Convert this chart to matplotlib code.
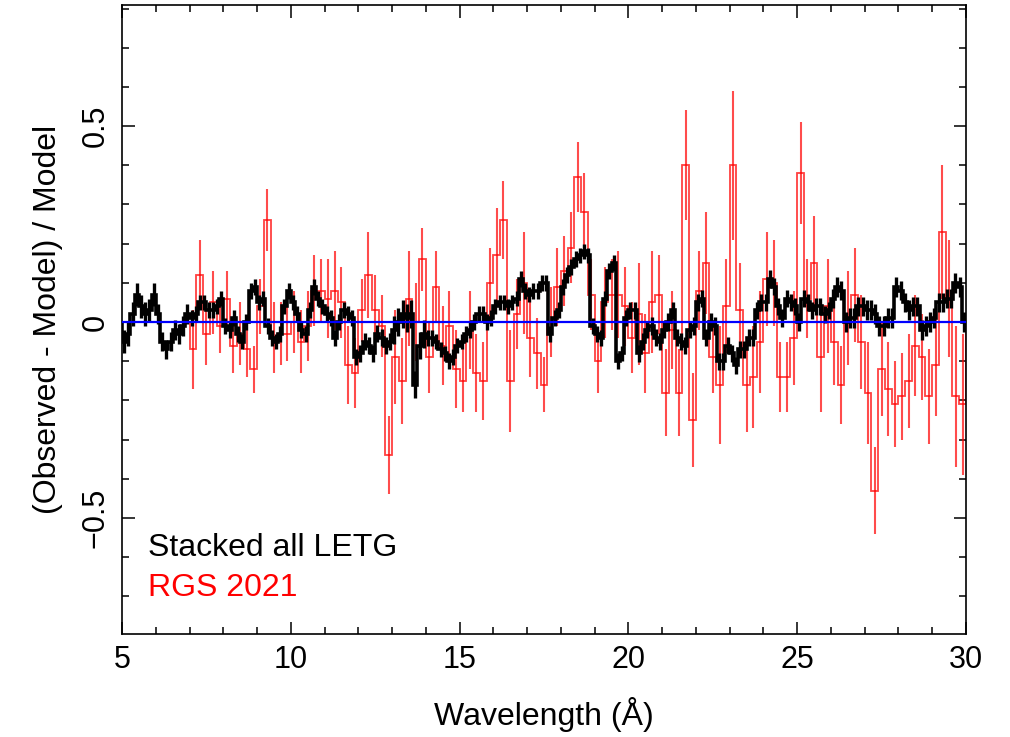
import numpy as np
import matplotlib
matplotlib.use("Agg")
import matplotlib.pyplot as plt

plt.rcParams["font.family"] = ["Liberation Sans", "DejaVu Sans"]

# stacked LETG residuals, 0.125 A bins from 5 to 30 A (one row per Angstrom)
letg_start, letg_step = 5.0, 0.125
letg_resid = [
    -0.05, -0.03, 0.02, 0.07, 0.04, 0.02, 0.03, 0.07,
    0.02, -0.05, -0.07, -0.05, -0.02, -0.03, -0.01, 0.02,
    0.01, 0.02, 0.05, 0.05, 0.03, 0.03, 0.04, 0.06,
    -0.01, -0.02, 0.01, -0.03, -0.05, 0.00, 0.08, 0.09,
    0.05, 0.06, -0.01, -0.04, -0.05, -0.03, 0.04, 0.08,
    0.05, 0.02, -0.02, -0.03, 0.03, 0.09, 0.06, 0.04,
    0.02, 0.01, -0.04, 0.00, 0.03, 0.02, 0.01, -0.09,
    -0.08, -0.05, -0.06, -0.08, -0.03, -0.04, -0.06, -0.05,
    -0.02, 0.00, 0.02, 0.01, 0.02, -0.16, -0.06, -0.03,
    -0.04, -0.04, -0.05, -0.07, -0.08, -0.10, -0.09, -0.06,
    -0.05, -0.03, -0.02, 0.00, 0.02, 0.02, 0.00, 0.01,
    0.04, 0.05, 0.05, 0.04, 0.05, 0.06, 0.11, 0.08,
    0.07, 0.08, 0.08, 0.10, 0.10, -0.03, 0.01, 0.03,
    0.09, 0.12, 0.14, 0.16, 0.17, 0.18, 0.17, -0.01,
    -0.03, -0.04, 0.06, 0.13, 0.15, -0.10, -0.08, 0.01,
    0.03, 0.03, -0.08, -0.05, -0.02, -0.01, -0.04, -0.05,
    -0.02, 0.00, 0.03, -0.04, -0.05, -0.06, -0.02, -0.01,
    0.05, 0.06, -0.04, 0.00, -0.01, -0.10, -0.10, -0.06,
    -0.08, -0.11, -0.07, -0.07, -0.04, -0.04, 0.03, 0.05,
    0.05, 0.11, 0.09, 0.04, 0.01, 0.06, 0.05, 0.04,
    0.00, 0.06, 0.05, 0.03, 0.04, 0.04, 0.02, 0.03,
    0.06, 0.09, 0.08, 0.00, 0.01, 0.01, 0.04, 0.04,
    0.03, 0.03, 0.02, -0.01, -0.01, 0.01, 0.01, 0.09,
    0.08, 0.05, 0.03, 0.04, 0.04, -0.02, -0.01, 0.00,
    0.01, 0.05, 0.05, 0.06, 0.06, 0.10, 0.09, 0.00,
]
# typical LETG error per Angstrom (5..29)
letg_err_per_A = [0.030, 0.025, 0.020, 0.020, 0.020, 0.020, 0.020, 0.022,
                  0.035, 0.020, 0.020, 0.020, 0.020, 0.020, 0.020, 0.022,
                  0.022, 0.022, 0.022, 0.022, 0.022, 0.025, 0.025, 0.025, 0.025]

# RGS 2021 residuals, 0.2 A bins from 7 to 30 A (one row per Angstrom)
rgs_start, rgs_step = 7.0, 0.2
rgs_resid = [
    -0.07, 0.12, -0.03, 0.05, -0.01,
    0.06, -0.06, -0.03, -0.07, -0.12,
    0.04, 0.26, -0.04, -0.03, -0.03,
    0.00, -0.05, -0.01, 0.08, 0.08,
    0.06, 0.08, 0.05, -0.11, -0.13,
    0.03, 0.12, 0.03, -0.01, -0.34,
    -0.09, -0.15, 0.06, 0.00, 0.16,
    -0.09, 0.09, -0.06, -0.01, -0.12,
    -0.15, -0.02, -0.13, -0.15, 0.10,
    0.17, 0.26, -0.15, 0.02, 0.10,
    -0.04, -0.08, -0.16, 0.00, 0.09,
    0.13, 0.19, 0.37, 0.28, 0.07,
    -0.10, 0.05, 0.07, 0.07, 0.04,
    -0.04, 0.02, -0.08, 0.05, 0.07,
    -0.18, -0.02, -0.18, 0.40, -0.25,
    0.08, 0.15, -0.09, -0.16, 0.04,
    0.40, 0.03, -0.16, -0.14, -0.05,
    0.11, 0.10, -0.14, -0.14, -0.04,
    0.38, 0.06, 0.15, -0.09, 0.04,
    -0.05, -0.16, 0.01, 0.07, -0.05,
    -0.18, -0.43, -0.12, -0.17, -0.21,
    -0.19, -0.15, -0.06, -0.09, -0.19,
    -0.11, 0.23, 0.06, -0.19, -0.21,
]
rgs_err = [
    0.10, 0.09, 0.08, 0.08, 0.07,
    0.07, 0.07, 0.08, 0.07, 0.06,
    0.07, 0.08, 0.09, 0.08, 0.07,
    0.08, 0.08, 0.09, 0.09, 0.08,
    0.10, 0.10, 0.09, 0.10, 0.09,
    0.08, 0.11, 0.09, 0.08, 0.10,
    0.12, 0.11, 0.12, 0.10, 0.08,
    0.09, 0.09, 0.10, 0.09, 0.10,
    0.08, 0.10, 0.10, 0.10, 0.09,
    0.12, 0.10, 0.13, 0.09, 0.13,
    0.10, 0.09, 0.07, 0.09, 0.10,
    0.09, 0.09, 0.09, 0.10, 0.09,
    0.08, 0.09, 0.09, 0.11, 0.10,
    0.09, 0.13, 0.10, 0.13, 0.10,
    0.11, 0.10, 0.11, 0.14, 0.12,
    0.10, 0.13, 0.09, 0.15, 0.12,
    0.19, 0.12, 0.12, 0.13, 0.13,
    0.12, 0.11, 0.09, 0.09, 0.12,
    0.13, 0.10, 0.12, 0.14, 0.12,
    0.11, 0.10, 0.12, 0.12, 0.12,
    0.13, 0.11, 0.12, 0.12, 0.11,
    0.11, 0.12, 0.13, 0.11, 0.12,
    0.13, 0.17, 0.15, 0.18, 0.18,
]

letg_resid = np.array(letg_resid)
letg_edges = letg_start + letg_step * np.arange(len(letg_resid) + 1)
letg_mid = 0.5 * (letg_edges[:-1] + letg_edges[1:])
letg_err = np.repeat(letg_err_per_A, int(round(1 / letg_step)))[:len(letg_resid)]

rgs_resid = np.array(rgs_resid)
rgs_edges = rgs_start + rgs_step * np.arange(len(rgs_resid) + 1)
rgs_mid = 0.5 * (rgs_edges[:-1] + rgs_edges[1:])

fig = plt.figure(figsize=(10.10, 7.37), dpi=100)
ax = fig.add_axes([0.1208, 0.1398, 0.8356, 0.8534])

# RGS (red, slightly transparent)
ax.stairs(rgs_resid, rgs_edges, color="red", lw=1.3, alpha=0.75, zorder=2)
ax.errorbar(rgs_mid, rgs_resid, yerr=rgs_err, fmt="none", ecolor="red",
            elinewidth=1.5, alpha=0.7, zorder=2)

# LETG (black, thick)
ax.stairs(letg_resid, letg_edges, color="black", lw=2.6, zorder=3)
ax.errorbar(letg_mid, letg_resid, yerr=letg_err, fmt="none", ecolor="black",
            elinewidth=2.4, zorder=3)

ax.axhline(0, color="#0000ff", lw=1.6, zorder=4)

ax.set_xlim(5, 30)
ax.set_ylim(-0.796, 0.809)
ax.set_xticks([5, 10, 15, 20, 25, 30])
ax.set_xticks(np.arange(5, 31, 1), minor=True)
ax.set_yticks([-0.5, 0, 0.5])
ax.set_yticklabels(["\u22120.5", "0", "0.5"])
ax.set_yticks(np.arange(-0.7, 0.81, 0.1), minor=True)

ax.tick_params(which="both", direction="in", top=True, right=True, width=1.1)
ax.tick_params(which="major", length=9, labelsize=22)
ax.tick_params(axis="x", which="major", pad=8)
ax.tick_params(axis="y", which="major", pad=8)
ax.tick_params(which="minor", length=5)
for lab in ax.get_yticklabels():
    lab.set_rotation(90)
    lab.set_va("center")
for sp in ax.spines.values():
    sp.set_linewidth(1.2)

ax.set_xlabel("Wavelength (\u00c5)", fontsize=23, labelpad=16)
ax.set_ylabel("(Observed - Model) / Model", fontsize=23, labelpad=13)

ax.text(0.031, 0.137, "Stacked all LETG", transform=ax.transAxes,
        fontsize=23, color="black", va="center", ha="left")
ax.text(0.031, 0.073, "RGS 2021", transform=ax.transAxes,
        fontsize=23, color="red", va="center", ha="left")

fig.savefig("out.png", dpi=100)
